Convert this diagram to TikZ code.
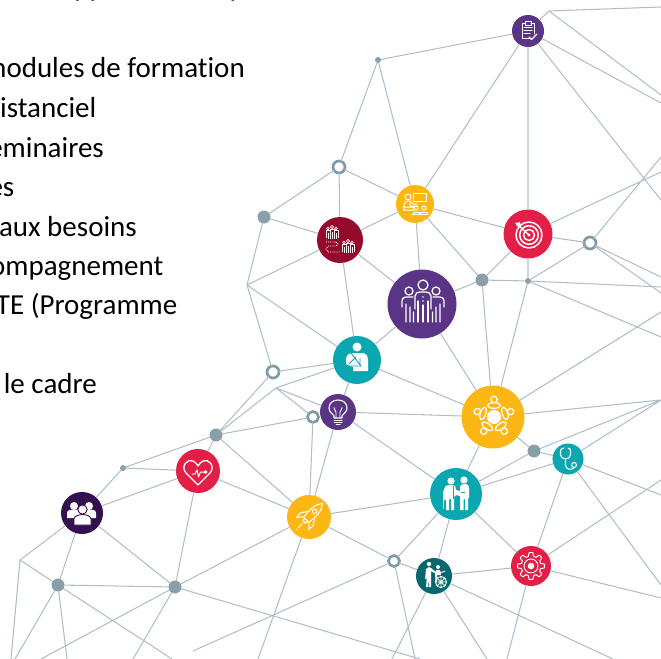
\documentclass[tikz,border=0pt]{standalone}
\usepackage{fontspec}
\setmainfont[RawFeature=-liga]{Carlito}
\definecolor{edgec}{HTML}{B0BFC7}
\definecolor{dotc}{HTML}{8A9FAA}
\definecolor{ringc}{HTML}{7F9AA6}
\definecolor{purp}{HTML}{5A3586}
\definecolor{gold}{HTML}{FDB714}
\definecolor{redc}{HTML}{E21F47}
\definecolor{maroon}{HTML}{95092C}
\definecolor{cyanc}{HTML}{0AA7B1}
\definecolor{tealc}{HTML}{04686E}
\definecolor{dpurp}{HTML}{33104F}
\tikzset{
  disc/.style 2 args={circle,fill=#1,minimum size=#2,inner sep=0pt,outer sep=0pt,draw=none},
  dotn/.style={circle,fill=dotc,minimum size=#1,inner sep=0pt,outer sep=0pt,draw=none},
  ringn/.style={circle,draw=ringc,line width=2.7bp,fill=white,minimum size=#1,inner sep=0pt,outer sep=0pt},
  edge/.style={draw=edgec,line width=1.05bp},
  body/.style={font=\fontsize{29bp}{36bp}\selectfont,text=black,anchor=base east,inner sep=0pt},
  wl/.style={draw=white,line width=1bp,line join=round,line cap=round},
  wf/.style={fill=white,draw=none},
  iclip/.pic={
    \draw[wl] (-3,-7)--(-6,-7)--(-6,8)--(1,8) (3,-7)--(6,-7)--(6,3);
    \draw[wl] (-3,-9) rectangle (3,-5.5);
    \draw[wl] (-4,-3)--(4,-3) (-4,0)--(4,0) (-4,3)--(2,3);
    \draw[wl,line width=1.2bp] (1,6)--(3.5,8.5)--(9,3);
  },
  ipres/.pic={
    \draw[wl] (-2,-11) rectangle (11,-3);
    \draw[wl] (-7,-7) circle (3);
    \draw[wl] (-11,6)--(-11,0)--(-8,-3)--(-5,-3)--(-2,0)--(2,0) (-5,-1)--(-5,2)--(-1,2) (-12,3)--(-1,3) (-12,6)--(-1,6);
    \draw[wl] (1,4) circle (2.1) (9,4) circle (2.1);
    \draw[wl] (-2,10)--(-2,8)--(4,8)--(4,10) (5,10)--(5,8)--(12,8)--(12,10) (-3,10)--(13,10);
  },
  itarget/.pic={
    \draw[wl,line width=1.5bp] (1,1) circle (13) (1,1) circle (9.3) (1,1) circle (5.5);
    \fill[white] (1,1) circle (1.6);
    \draw[wl,line width=1.3bp] (1,1)--(-9,-8);
    \fill[white] (-13,-11)--(-8,-12)--(-7,-7)--(-9,-6)--(-11,-8)--cycle;
  },
  ibig/.pic={
    \draw[wl,line width=1.25bp] (1,-19) circle (5);
    \draw[wl,line width=1.25bp] (-7,5)--(-7,-8) .. controls (-7,-11) and (-4,-12) .. (-2,-12)--(4,-12) .. controls (6,-12) and (9,-11) .. (9,-8)--(9,5);
    \draw[wl,line width=1.25bp] (-4,-3)--(-4,18) (1,1)--(1,18) (6,-3)--(6,18);
    \fill[white] (1,-7) circle (.8) (1,-3) circle (.8);
    \draw[wl,line width=1.25bp] (-13,-13) circle (4) (14,-13) circle (4);
    \draw[wl,line width=1.25bp] (-9,-7)--(-16,-7) .. controls (-19,-7) and (-20,-5) .. (-20,-3)--(-20,3) (-16,0)--(-16,18) (-12,3)--(-12,18) (-8.5,8)--(-8.5,18);
    \draw[wl,line width=1.25bp] (11,-7)--(18,-7) .. controls (21,-7) and (22,-5) .. (22,-3)--(22,3) (18,0)--(18,18) (14,3)--(14,18) (10.5,8)--(10.5,18);
  },
  ifolk/.pic={
    \draw[draw=white!80!pink,line width=.6bp,line join=round] (0,-5) circle (1.6) (-4,-3.5) circle (1.4) (4,-3.5) circle (1.4);
    \draw[draw=white!80!pink,line width=.6bp,line join=round] (-6,6)--(-6,-1.5)--(-2,-1.5)--(-2,-3)--(2,-3)--(2,-1.5)--(6,-1.5)--(6,6) (-4,1)--(-4,7) (-2,-1)--(-2,7) (0,0)--(0,7) (2,-1)--(2,7) (4,1)--(4,7);
  },
  imaroon/.pic={
    \pic at (-8,-8) {ifolk};
    \pic at (8,6) {ifolk};
    \draw[draw=white,line width=.9bp,dash pattern=on 1bp off 1.1bp] (-14,2)--(-4,2) (-4,2)--(-2,4)--(-4,6)--(-12,6)--(-14,9)--(-12,12)--(0,12);
  },
  iarm/.pic={
    \fill[white] (0,-13) circle (4.5);
    \fill[white] (-11,4) -- (-11,-1) .. controls (-11,-5) and (-7,-7) .. (-4,-7)--(5,-7) .. controls (9,-7) and (11,-4) .. (11,0)--(11,11)--(-4,11)--(-4,7)--cycle;
    \draw[draw=cyanc,line width=.9bp] (-6,-7)--(4,6)--(-7,6) (-1,-3)--(-8,4) (3,-2)--(3,5);
  },
  ibulb/.pic={
    \draw[wl,line width=1.1bp] (-4,6)--(-4,4) .. controls (-5,2) and (-9,0) .. (-9,-4) .. controls (-9,-9) and (-5,-12) .. (0,-12) .. controls (5,-12) and (9,-9) .. (9,-4) .. controls (9,0) and (5,2) .. (4,4)--(4,6)--cycle;
    \draw[wl,line width=.9bp] (-2,6)--(-2,0) .. controls (-2,-2) and (-5,-3) .. (-4,-4.5) (2,6)--(2,0) .. controls (2,-2) and (5,-3) .. (4,-4.5);
    \draw[wl] (-4,8)--(4,8) (-4,10)--(4,10) (-2,12)--(2,12);
  },
  ifive/.pic={
    \fill[white] (1,0) circle (7);
    \foreach \a in {0,72,144,216,288}{
      \begin{scope}[shift={(1,0)},rotate=\a]
        \draw[wl,line width=1.25bp] (0,-17.5) circle (3.2);
        \draw[wl,line width=1.25bp] (0,-11.5) ellipse (6.5 and 2.8);
      \end{scope}
    }
  },
  icouple/.pic={
    \fill[white] (-5,-13) circle (3.6) (8,-14) circle (3.6);
    \fill[white] (-12,6)--(-12,-5) .. controls (-12,-8) and (-9,-9) .. (-7,-9)--(-3,-9) .. controls (-1,-9) and (0,-7) .. (0,-4)--(4,-3)--(4,-7) .. controls (4,-9) and (6,-10) .. (8,-10)--(10,-10) .. controls (12,-10) and (13,-8) .. (13,-6)--(13,4)--(12,4)--(12,16)--(9,16)--(9,5)--(7.5,5)--(7.5,16)--(4,16)--(4,2)--(0,1)--(-2,3)--(-2,16)--(-5,16)--(-5,5)--(-7,5)--(-7,16)--(-10,16)--(-10,6)--cycle;
    \draw[wl,line width=1bp] (-13,-3)--(-13,14);
    \draw[draw=cyanc,line width=.7bp] (-3,-8)--(-3,5) (5,-2)--(9,-2);
  },
  iwheel/.pic={
    \fill[white] (-5,-12) circle (2.2) (4,-9) circle (2);
    \fill[white] (-8,11)--(-7,-1)--(-8,3)--(-9,3)--(-8,-7)--(-5,-9)--(-3,-8)--(3,-3)--(2,-2)--(-3,-5)--(-3,11)--(-5,11)--(-5.5,2)--(-6,11)--cycle;
    \fill[white] (2,-6)--(6,-6)--(7,-1)--(3,-1)--(3,6)--(1.5,6)--(1,-2)--cycle;
    \draw[wl,line width=.9bp] (7,6) circle (5.6) (1.5,6)--(12.5,6) (7,.5)--(7,11.5) (3,2)--(11,10) (3,10)--(11,2);
    \draw[wl] (6,-3)--(11,-5);
  },
  igear/.pic={
    \draw[wl,line width=1bp] plot[domain=0:360,samples=289] ({(11.7+1.8*max(-1,min(1,2.2*cos(8*\x))))*cos(\x)},{(11.7+1.8*max(-1,min(1,2.2*cos(8*\x))))*sin(\x)}) -- cycle;
    \draw[wl,line width=.9bp] (0,0) circle (7);
    \fill[white] (0,0) circle (3.3);
  },
  isteth/.pic={
    \draw[wl,line width=1.1bp] (-4,-11) .. controls (-7,-11) and (-7.5,-9) .. (-7.5,-8)--(-7.5,-4) .. controls (-7.5,1) and (2.5,1) .. (2.5,-4)--(2.5,-8) .. controls (2.5,-9) and (2,-11) .. (0,-11);
    \draw[wl,line width=1.1bp] (-2.5,0)--(-2.5,6) .. controls (-2.5,11) and (4,11) .. (5.5,9)--(6,8.5);
    \draw[wl,line width=1.1bp] (6,6) circle (2.5);
  },
  iheart/.pic={
    \draw[wl,line width=1.3bp] (0,14)--(-12,2) .. controls (-18,-5) and (-10,-13) .. (-5,-10) .. controls (-3,-9) and (-1,-7) .. (0,-5) .. controls (1,-7) and (3,-9) .. (5,-10) .. controls (10,-13) and (18,-5) .. (12,2)--cycle;
    \draw[wl] (-6,3)--(-3,3)--(-1,-1)--(0.5,6)--(2.5,1)--(6,1);
    \draw[wl] (7.5,1) circle (1.4);
  },
  igroup/.pic={
    \fill[white] (-8,-7) circle (4) (7,-7) circle (4);
    \fill[white] (-15,5)--(-15,0) .. controls (-15,-3) and (-11,-3.5) .. (-8,-3.5) .. controls (-5,-3.5) and (5,-3.5) .. (7,-3.5) .. controls (11,-3.5) and (14,-3) .. (14,0)--(14,5)--cycle;
    \draw[draw=dpurp,fill=white,line width=.9bp] (0.5,-3.5) circle (4.6);
    \draw[draw=dpurp,fill=white,line width=.9bp] (-8,12)--(-8,6) .. controls (-8,3) and (-3,1.5) .. (.5,1.5) .. controls (4,1.5) and (9,3) .. (9,6)--(9,12)--cycle;
  },
  irocket/.pic={
    \begin{scope}[rotate=-45]
      \draw[wl] (0,-19) .. controls (5,-14) and (5,-5) .. (3.5,4)--(-3.5,4) .. controls (-5,-5) and (-5,-14) .. cycle;
      \draw[wl] (0,-8) circle (2.2);
      \draw[wl] (4,-4)--(9,3)--(8.5,9)--(3.5,3) (-4,-4)--(-9,3)--(-8.5,9)--(-3.5,3);
      \draw[wl] (-2,4)--(-2,7)--(2,7)--(2,4) (0,9)--(0,15) (0,17)--(0,18);
    \end{scope}
  },
}
\begin{document}
\begin{tikzpicture}[x=1bp,y=-1bp]
\useasboundingbox (0,0) rectangle (661,659);
\clip (0,0) rectangle (661,659);
% text
\node[body] (t1) at (245,78) {modules de formation};
\node[body] (t2) at (96.5,118) {distanciel};
\node[body] (t3) at (104,157) {séminaires};
\node[body] (t4) at (14.5,196) {es};
\node[body] (t5) at (137,236) {aux besoins};
\node[body] (t6) at (163.5,275) {compagnement};
\node[body] (t7) at (177.5,314) {TE (Programme};
\node[body] (t8) at (97,393) {le cadre};
\node[body] (t01) at (105,-3) {pp};
\node[body] (t02) at (245,-3) {(p};
\node[body] (t03) at (397,-3) {,};
\node[body] (t04) at (471,-3) {)};
% free ends
\coordinate (T) at (549,11);
\coordinate (W) at (247,285);
\coordinate (X) at (276,388);
\coordinate (C) at (20,560);
\coordinate (J) at (661,400);
\coordinate (S) at (193,651);
\coordinate (r1) at (661,7);
\coordinate (r2) at (661,95);
\coordinate (r3) at (661,103);
\coordinate (r4) at (661,200);
\coordinate (r5) at (661,157);
\coordinate (r6) at (661,172);
\coordinate (r7) at (661,277);
\coordinate (r8) at (661,293);
\coordinate (r9) at (661,287);
\coordinate (r10) at (661,337);
\coordinate (r11) at (661,312);
\coordinate (r12) at (661,495);
\coordinate (r13) at (661,585);
\coordinate (r14) at (661,480);
\coordinate (r15) at (661,598);
\coordinate (b1) at (11,659);
\coordinate (b2) at (15,659);
\coordinate (b3) at (67,659);
\coordinate (b4) at (172,659);
\coordinate (b5) at (41,659);
\coordinate (b6) at (133,659);
\coordinate (b7) at (258,659);
\coordinate (b8) at (420,659);
\coordinate (b9) at (415,659);
\coordinate (b10) at (392,659);
\coordinate (b11) at (487,659);
\coordinate (b12) at (613,659);
\coordinate (b13) at (507,659);
% nodes
\node[disc={purp}{32bp}] (clip) at (528,31) {};
\node[disc={gold}{38bp}] (pres) at (415,204) {};
\node[disc={redc}{49bp}] (target) at (528,234) {};
\node[disc={maroon}{46bp}] (maro) at (340,240) {};
\node[disc={purp}{69bp}] (big) at (422,304) {};
\node[disc={cyanc}{48bp}] (arm) at (357,360) {};
\node[disc={purp}{36bp}] (bulb) at (338,412) {};
\node[disc={gold}{63bp}] (five) at (493,417) {};
\node[disc={cyanc}{31bp}] (steth) at (568,459) {};
\node[disc={cyanc}{52bp}] (couple) at (456,494) {};
\node[disc={tealc}{36bp}] (wheel) at (434,576) {};
\node[disc={redc}{40bp}] (gear) at (531,566) {};
\node[disc={gold}{44bp}] (rocket) at (309,517) {};
\node[disc={redc}{44bp}] (heart) at (198,471) {};
\node[disc={dpurp}{42bp}] (group) at (82,513) {};
\node[dotn=6bp] (p1) at (378,60) {};
\node[dotn=6bp] (p2) at (528,281) {};
\node[dotn=6bp] (p3) at (123,468) {};
\node[dotn=13bp] (g1) at (264,217) {};
\node[dotn=13bp] (g2) at (482,280) {};
\node[dotn=13bp] (g3) at (216,435) {};
\node[dotn=13bp] (g4) at (58,585) {};
\node[dotn=13bp] (g5) at (175,587) {};
\node[dotn=13bp] (g6) at (534,451) {};
\node[ringn=12bp] (o1) at (339,167) {};
\node[ringn=12bp] (o2) at (273,372) {};
\node[ringn=11bp] (o3) at (313,417) {};
\node[ringn=11bp] (o4) at (394,561) {};
\node[ringn=12bp] (o5) at (590,243) {};
% edges
\draw[edge] (T)--(r1) (T)--(clip) (T)--(r2) (clip)--(r3) (clip)--(r4) (clip)--(target) (clip)--(pres) (clip)--(p1);
\draw[edge] (p1)--(o1) (p1)--(pres) (o1)--(pres) (o1)--(maro) (g1)--(o1) (g1)--(maro) (g1)--(W) (W)--(maro) (W)--(o2) (W)--(arm);
\draw[edge] (pres)--(maro) (pres)--(big) (pres)--(g2) (pres)--(target) (maro)--(big) (maro)--(arm);
\draw[edge] (target)--(g2) (target)--(p2) (target)--(o5) (target)--(r6) (o5)--(r5) (o5)--(r7) (o5)--(r8) (o5)--(p2);
\draw[edge] (g2)--(p2) (g2)--(big) (g2)--(five) (p2)--(five) (p2)--(r9) (p2)--(r10) (big)--(five) (big)--(arm);
\draw[edge] (arm)--(five) (arm)--(bulb) (arm)--(o2) (arm)--(X) (bulb)--(five) (bulb)--(X) (bulb)--(couple) (bulb)--(rocket) (X)--(o3) (X)--(g3) (o2)--(g3);
\draw[edge] (o3)--(g3) (o3)--(rocket) (g3)--(heart) (g3)--(p3) (g3)--(rocket) (p3)--(heart) (p3)--(group) (heart)--(group) (heart)--(rocket) (heart)--(g5);
\draw[edge] (group)--(g4) (group)--(g5) (group)--(C) (C)--(b1) (C)--(g4) (g4)--(g5) (g4)--(b2) (g4)--(b3) (g4)--(b4) (g5)--(b5) (g5)--(b6) (g5)--(rocket) (g5)--(b8);
\draw[edge] (rocket)--(b7) (rocket)--(o4) (rocket)--(couple) (S)--(o4) (o4)--(couple) (o4)--(wheel) (o4)--(b9);
\draw[edge] (wheel)--(couple) (wheel)--(gear) (wheel)--(b10) (wheel)--(b11) (wheel)--(b12) (gear)--(b13) (gear)--(couple) (gear)--(steth) (gear)--(r15) (gear)--(r14);
\draw[edge] (couple)--(five) (couple)--(g6) (couple)--(steth) (five)--(g6) (g6)--(steth) (g6)--(J) (steth)--(J) (five)--(J) (five)--(r11) (steth)--(r12) (steth)--(r13);
% icons
\pic at (528,31) {iclip};
\pic at (415,204) {ipres};
\pic at (528,234) {itarget};
\pic at (340,240) {imaroon};
\pic at (422,304) {ibig};
\pic at (357,360) {iarm};
\pic at (338,412) {ibulb};
\pic at (493,417) {ifive};
\pic at (568,459) {isteth};
\pic at (456,494) {icouple};
\pic at (434,576) {iwheel};
\pic at (531,566) {igear};
\pic at (309,517) {irocket};
\pic at (198,471) {iheart};
\pic at (82,513) {igroup};
\end{tikzpicture}
\end{document}
